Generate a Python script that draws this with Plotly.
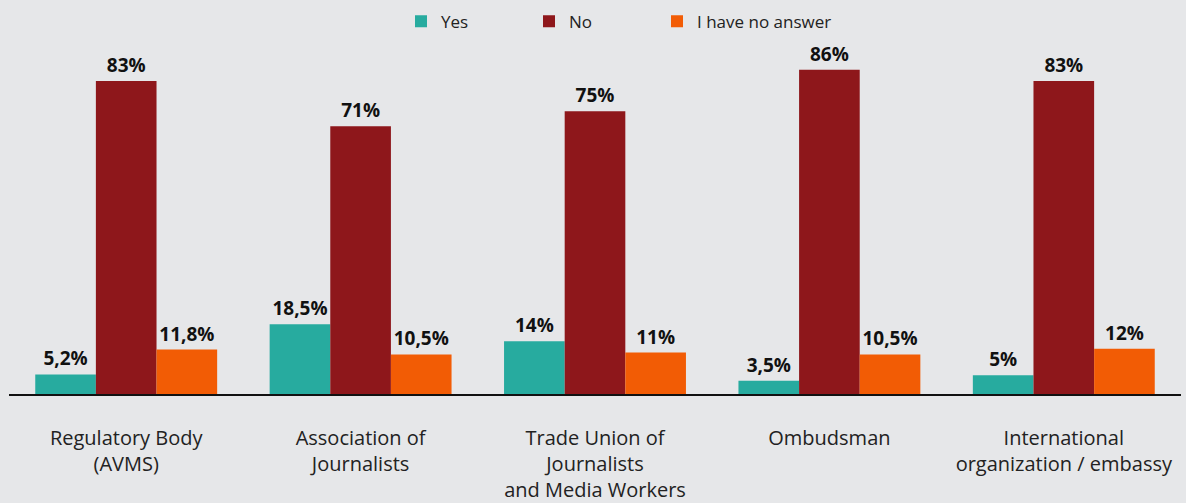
import plotly.graph_objects as go

categories = ["Regulatory Body<br>(AVMS)", "Association of<br>Journalists",
              "Trade Union of<br>Journalists<br>and Media Workers", "Ombudsman",
              "International<br>organization / embassy"]
yes_vals = [5.2, 18.5, 14, 3.5, 5]
no_vals = [83, 71, 75, 86, 83]
na_vals = [11.8, 10.5, 11, 10.5, 12]

series = [("Yes", yes_vals, "#27ab9f", "legend"), ("No", no_vals, "#8e171b", "legend"),
          ("I have no answer", na_vals, "#f25c05", "legend2")]

def fmt(v):
    return (f"{v:g}%").replace(".", ",")

fig = go.Figure()
for name, vals, color, leg in series:
    fig.add_trace(go.Bar(
        x=categories, y=vals, name=name, legend=leg,
        marker=dict(color=color, line=dict(width=0)),
        text=[fmt(v) for v in vals], textposition="outside", cliponaxis=False,
        textfont=dict(family="Open Sans", size=19, color="#111111", weight="bold"),
    ))

leg_common = dict(orientation="h", xanchor="left", xref="container",
                  y=0.957, yanchor="middle", yref="container",
                  font=dict(size=17, color="#222222"),
                  bgcolor="rgba(0,0,0,0)")

fig.update_layout(
    width=1186, height=503,
    paper_bgcolor="#e6e7e9", plot_bgcolor="#e6e7e9",
    margin=dict(l=9, r=5, t=40, b=109, autoexpand=False),
    barmode="group", bargap=0.224, bargroupgap=0,
    font=dict(family="Open Sans", color="#222222"),
    legend=dict(x=401 / 1186, entrywidth=83, **leg_common),
    legend2=dict(x=657 / 1186, **leg_common),
    showlegend=True,
)
fig.update_xaxes(showline=True, linecolor="#111111", linewidth=1.5, ticks="",
                 tickfont=dict(size=20, color="#222222"), ticklabelstandoff=25)
fig.update_yaxes(range=[0, 93.9], visible=False, showgrid=False, zeroline=False)

fig.write_html("out.html")
